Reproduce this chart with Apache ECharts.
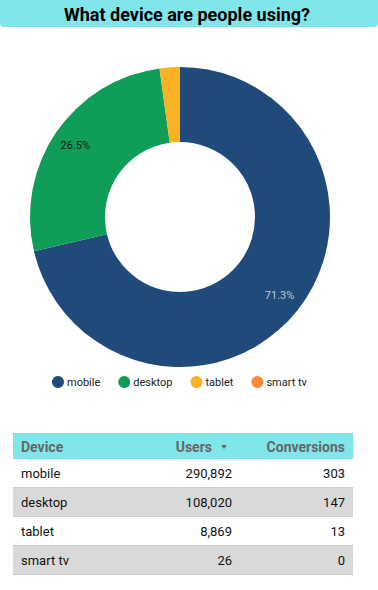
<!DOCTYPE html>
<html>
<head>
<meta charset="utf-8">
<script src="https://cdn.jsdelivr.net/npm/echarts@6/dist/echarts.min.js"></script>
<style>
html, body { margin: 0; padding: 0; background: #fff; }
#chart { width: 378px; height: 590px; }
</style>
</head>
<body>
<div id="chart"></div>
<script>
// data
const devices = ['mobile', 'desktop', 'tablet', 'smart tv'];
const users = [290892, 108020, 8869, 26];
const conversions = [303, 147, 13, 0];
const colors = ['#1f4a7a', '#0f9d58', '#fbb124', '#fc8a3a'];
const labelColors = ['#c4c4c4', '#1a1a1a', '#1a1a1a', '#1a1a1a'];

const chart = echarts.init(document.getElementById('chart'), null, { renderer: 'svg' });

const font = 'Roboto, sans-serif';
const pieData = devices.map((d, i) => ({ name: d, value: users[i], itemStyle: { color: colors[i] } }));
const total = users.reduce((a, b) => a + b, 0);

// table layout
const tLeft = 13, tRight = 353, headTop = 433, headH = 26, rowH = 29;
const colDeviceX = 21, colUsersX = 232, colConvX = 345;

const graphics = [
    {
        type: 'rect',
        shape: { x: 0, y: 0, width: 378, height: 27, r: [0, 0, 4, 4] },
        style: { fill: '#80e6ea' }
    },
    {
        type: 'text',
        x: 187, y: 14,
        style: { text: 'What device are people using?', font: 'bold 18px ' + font, fill: '#000', textAlign: 'center', textVerticalAlign: 'middle' }
    },
    {
        type: 'rect',
        shape: { x: tLeft, y: headTop, width: tRight - tLeft, height: headH },
        style: { fill: '#80e6ea' }
    },
    {
        type: 'text', x: colDeviceX, y: headTop + headH / 2 + 1,
        style: { text: 'Device', font: 'bold 14px ' + font, fill: '#666', textAlign: 'left', textVerticalAlign: 'middle' }
    },
    {
        type: 'text', x: 212, y: headTop + headH / 2 + 1,
        style: { text: 'Users', font: 'bold 14px ' + font, fill: '#666', textAlign: 'right', textVerticalAlign: 'middle' }
    },
    {
        type: 'polygon',
        shape: { points: [[221, 445], [227, 445], [224, 449]] },
        style: { fill: '#666' }
    },
    {
        type: 'text', x: colConvX, y: headTop + headH / 2 + 1,
        style: { text: 'Conversions', font: 'bold 14px ' + font, fill: '#666', textAlign: 'right', textVerticalAlign: 'middle' }
    }
];

devices.forEach((d, i) => {
    const top = headTop + headH + i * rowH;
    const cy = top + rowH / 2;
    graphics.push({
        type: 'rect',
        shape: { x: tLeft, y: top, width: tRight - tLeft, height: rowH },
        style: { fill: i % 2 === 1 ? '#d9d9d9' : '#fff' }
    });
    graphics.push({
        type: 'line',
        shape: { x1: tLeft, y1: top + rowH - 0.5, x2: tRight, y2: top + rowH - 0.5 },
        style: { stroke: '#cfcfcf', lineWidth: 1 }
    });
    graphics.push({
        type: 'text', x: colDeviceX, y: cy,
        style: { text: d, font: '13px ' + font, fill: '#111', textAlign: 'left', textVerticalAlign: 'middle' }
    });
    graphics.push({
        type: 'text', x: colUsersX, y: cy,
        style: { text: users[i].toLocaleString('en-US'), font: '13px ' + font, fill: '#111', textAlign: 'right', textVerticalAlign: 'middle' }
    });
    graphics.push({
        type: 'text', x: colConvX, y: cy,
        style: { text: conversions[i].toLocaleString('en-US'), font: '13px ' + font, fill: '#111', textAlign: 'right', textVerticalAlign: 'middle' }
    });
});

const option = {
    animation: false,
    textStyle: { fontFamily: font },
    legend: {
        data: devices,
        top: 371,
        left: 47,
        icon: 'circle',
        itemWidth: 12,
        itemHeight: 12,
        itemGap: 18,
        textStyle: { fontSize: 11, color: '#222', fontFamily: font, padding: [0, 0, 0, -2] }
    },
    series: [
        {
            type: 'pie',
            center: [180, 217],
            radius: [75, 150],
            startAngle: 90,
            silent: true,
            label: { show: false },
            labelLine: { show: false },
            data: pieData
        },
        {
            // transparent overlay just to place the percent labels
            type: 'pie',
            center: [180, 217],
            radius: [98, 150],
            startAngle: 90,
            silent: true,
            z: 3,
            itemStyle: { color: 'rgba(0,0,0,0)' },
            labelLine: { show: false },
            label: {
                show: true,
                position: 'inside',
                fontSize: 11,
                fontFamily: font,
                formatter: p => (p.value / total >= 0.05 ? (p.value / total * 100).toFixed(1) + '%' : '')
            },
            data: devices.map((d, i) => ({ name: d, value: users[i], label: { color: labelColors[i] } }))
        }
    ],
    graphic: graphics
};

chart.setOption(option);
</script>
</body>
</html>
